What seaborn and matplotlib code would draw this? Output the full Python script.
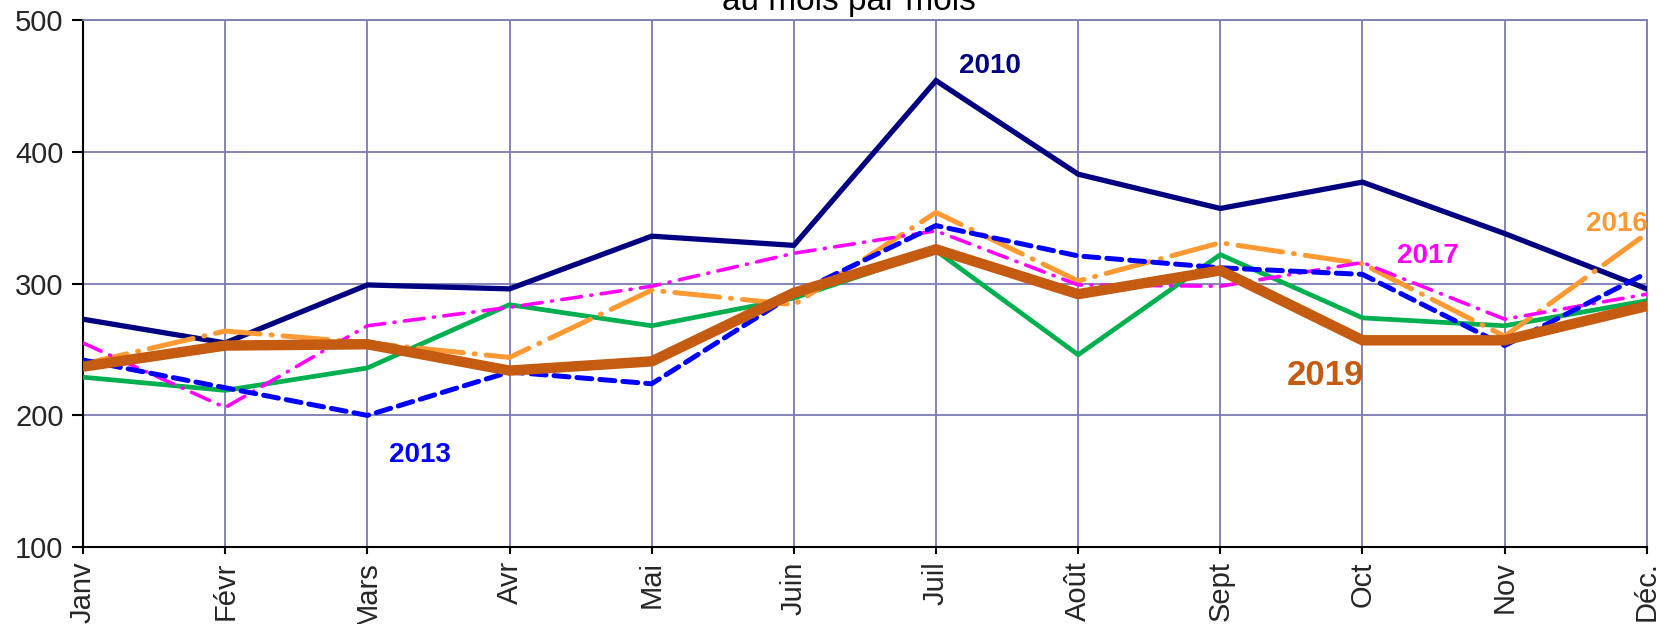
import matplotlib
matplotlib.use("Agg")
import matplotlib.pyplot as plt
import seaborn as sns
import pandas as pd
import numpy as np

months = ["Janv", "Févr", "Mars", "Avr", "Mai", "Juin", "Juil", "Août", "Sept", "Oct", "Nov", "Déc."]
y2010 = [273, 255, 299, 296, 336, 329, 454, 383, 357, 377, 338, 296]
y2013 = [242, 221, 200, 233, 224, 292, 344, 321, 312, 307, 253, 308]
y2016 = [239, 264, 255, 244, 295, 284, 354, 302, 331, 315, 260, 338]
y2017 = [255, 206, 268, 282, 298, 323, 340, 299, 298, 316, 273, 292]
y2018 = [229, 219, 236, 284, 268, 289, 325, 246, 322, 274, 268, 287]
y2019 = [237, 253, 254, 234, 241, 293, 326, 292, 310, 257, 257, 283]
yticks = [100, 200, 300, 400, 500]

sns.set_theme(style="white")
plt.rcParams['font.family'] = ['Liberation Sans', 'DejaVu Sans']

fig = plt.figure(figsize=(16.77, 6.24), dpi=100)
ax = fig.add_axes([0.0495, 0.123, 0.9325, 0.845])

x = np.arange(len(months))
grid_c = "#7b7bb3"

series = [
    (y2010, "#000080", 3.8, "-"),
    (y2018, "#00b050", 3.4, "-"),
    (y2016, "#ff9933", 3.6, (0, (9, 2.2, 0.2, 2.2))),
    (y2017, "#ff00ff", 2.6, (0, (5.5, 2.6, 0.3, 2.6))),
    (y2013, "#0000ff", 3.6, (0, (3.0, 1.6))),
    (y2019, "#c55a11", 7.5, "-"),
]
for i, (vals, col, lw, ls) in enumerate(series):
    sns.lineplot(x=x, y=vals, ax=ax, color=col, linewidth=lw, linestyle=ls,
                 dash_capstyle="round", solid_joinstyle="miter", zorder=3 + i)

ax.set_xlim(0, 11)
ax.set_ylim(100, 500)
ax.set_xticks(x)
ax.set_xticklabels(months, rotation=90, fontsize=21)
ax.set_yticks(yticks)
ax.set_yticklabels([str(v) for v in yticks], fontsize=21)
ax.grid(True, color=grid_c, linewidth=1.3)
for s in ["top", "right"]:
    ax.spines[s].set_color(grid_c)
    ax.spines[s].set_linewidth(1.3)
for s in ["left", "bottom"]:
    ax.spines[s].set_color("black")
    ax.spines[s].set_linewidth(1.5)
ax.tick_params(axis="y", direction="out", length=8, width=1.5, color="black", left=True, pad=6)
ax.tick_params(axis="x", direction="out", length=5, width=1.5, color="black", bottom=True, pad=5)

ax.text(6.38, 465, "2010", color="#000080", fontsize=20, fontweight="bold", ha="center", va="center")
ax.text(2.37, 170, "2013", color="#0000ff", fontsize=20, fontweight="bold", ha="center", va="center")
ax.text(10.79, 345, "2016", color="#ff9933", fontsize=20, fontweight="bold", ha="center", va="center")
ax.text(9.46, 321, "2017", color="#ff00ff", fontsize=20, fontweight="bold", ha="center", va="center")
ax.text(8.74, 230, "2019", color="#c55a11", fontsize=25, fontweight="bold", ha="center", va="center")

fig.text(0.506, 1 - 10 / 624, "au mois par mois", fontsize=24, ha="center", va="baseline", color="black")

fig.savefig("out.png", dpi=100)
